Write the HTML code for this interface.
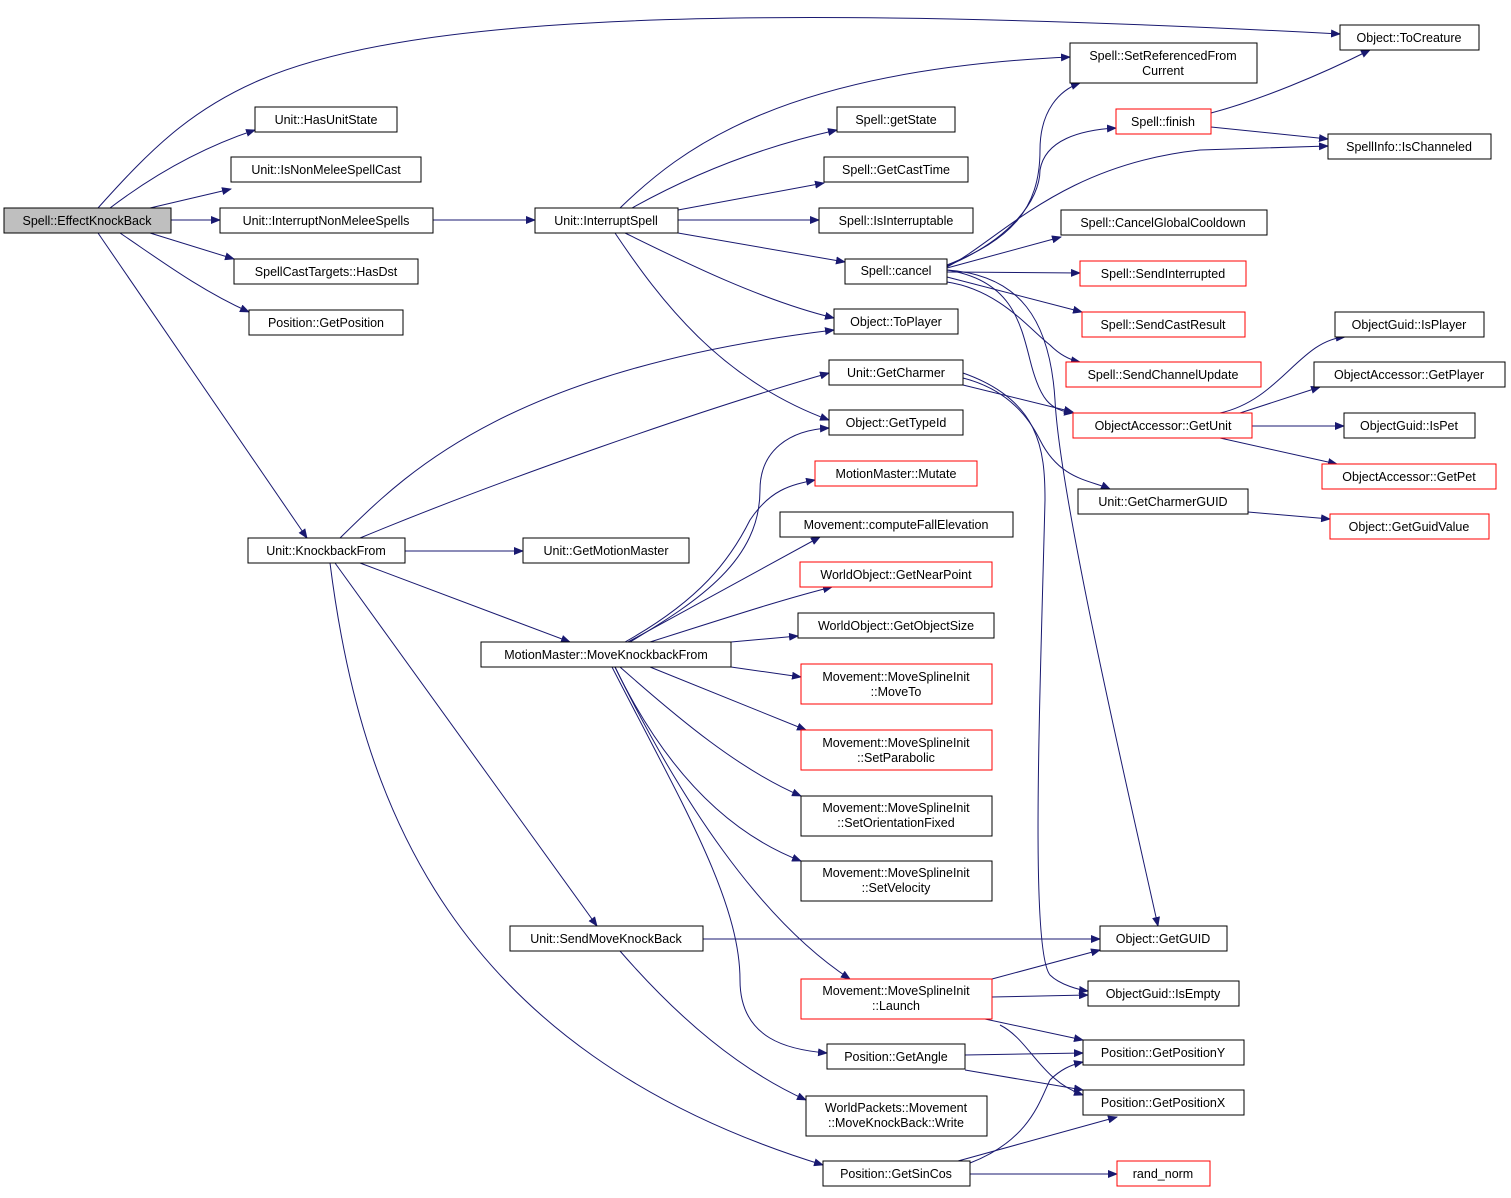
<!DOCTYPE html>
<html><head><meta charset="utf-8"><style>
html,body{margin:0;padding:0;background:#fff;}
svg text{font-family:"Liberation Sans","DejaVu Sans",sans-serif;font-size:12.5px;fill:#000;text-anchor:middle;}
.b{fill:#fff;stroke:#000;stroke-width:1;}
.r{fill:#fff;stroke:#ff0000;stroke-width:1;}
.e{fill:none;stroke:#191970;stroke-width:1;marker-end:url(#a);}
</style></head><body>
<svg width="1511" height="1193" viewBox="0 0 1511 1193" xmlns="http://www.w3.org/2000/svg">
<defs><marker id="a" markerWidth="10" markerHeight="8" refX="9" refY="4" orient="auto" markerUnits="userSpaceOnUse"><path d="M0,0 L10,4 L0,8 z" fill="#191970"/></marker></defs>
<g>
<path class="e" d="M98,208 C150,150 190,110 260,80 C400,20 700,0 1340,34"/>
<path class="e" d="M110,208 C160,170 210,145 255,130"/>
<path class="e" d="M150,208 L231,189"/>
<path class="e" d="M171,220 L220,220"/>
<path class="e" d="M150,233 L234,259"/>
<path class="e" d="M120,233 C160,260 200,290 249,312"/>
<path class="e" d="M98,233 L307,538"/>
<path class="e" d="M433,220 L535,220"/>
<path class="e" d="M620,208 C680,150 780,70 1070,57"/>
<path class="e" d="M632,208 C700,170 770,145 837,130"/>
<path class="e" d="M678,210 L824,183"/>
<path class="e" d="M678,220 L819,220"/>
<path class="e" d="M678,233 L845,262"/>
<path class="e" d="M625,233 C680,260 760,300 834,318"/>
<path class="e" d="M615,233 C660,300 720,380 829,420"/>
<path class="e" d="M340,538 C400,480 500,370 834,330"/>
<path class="e" d="M360,538 C500,480 700,410 829,373"/>
<path class="e" d="M405,551 L523,551"/>
<path class="e" d="M360,563 L570,642"/>
<path class="e" d="M335,563 L597,926"/>
<path class="e" d="M330,563 C360,800 450,1050 823,1165"/>
<path class="e" d="M630,642 C700,600 760,560 760,490 C760,450 790,430 829,428"/>
<path class="e" d="M625,642 C700,600 730,560 750,520 C770,490 790,485 815,480"/>
<path class="e" d="M628,642 L820,537"/>
<path class="e" d="M650,642 C720,620 780,600 832,587"/>
<path class="e" d="M731,642 L798,636"/>
<path class="e" d="M731,667 L801,677"/>
<path class="e" d="M650,667 L806,730"/>
<path class="e" d="M620,667 C680,720 740,770 801,796"/>
<path class="e" d="M615,667 C660,760 720,830 801,861"/>
<path class="e" d="M615,667 C680,800 760,920 850,979"/>
<path class="e" d="M612,667 C680,800 740,900 740,980 C740,1040 790,1050 827,1053"/>
<path class="e" d="M703,939 L1100,939"/>
<path class="e" d="M620,951 C680,1020 740,1070 806,1100"/>
<path class="e" d="M947,265 C1010,240 1040,210 1040,150 C1040,110 1060,90 1080,83"/>
<path class="e" d="M947,266 C1010,240 1040,200 1040,170 C1045,140 1080,130 1116,128"/>
<path class="e" d="M947,267 C1000,240 1060,165 1200,150 L1328,146"/>
<path class="e" d="M947,268 L1061,237"/>
<path class="e" d="M947,272 L1080,273"/>
<path class="e" d="M947,277 L1082,312"/>
<path class="e" d="M947,282 C1000,290 1030,330 1050,345 C1060,355 1070,360 1080,362"/>
<path class="e" d="M947,270 C1010,280 1020,320 1030,360 C1040,400 1050,410 1073,413"/>
<path class="e" d="M947,270 C1020,275 1050,320 1055,400 C1060,500 1130,800 1158,926"/>
<path class="e" d="M1211,113 C1260,100 1320,75 1370,50"/>
<path class="e" d="M1211,127 L1328,139"/>
<path class="e" d="M963,385 L1073,412"/>
<path class="e" d="M963,378 C1010,390 1030,420 1040,440 C1060,480 1090,480 1110,489"/>
<path class="e" d="M963,373 C1040,400 1045,450 1045,500 C1040,700 1030,950 1050,975 C1060,985 1080,990 1088,991"/>
<path class="e" d="M1220,413 C1280,400 1300,340 1345,337"/>
<path class="e" d="M1240,413 L1320,387"/>
<path class="e" d="M1252,426 L1344,426"/>
<path class="e" d="M1220,438 L1337,464"/>
<path class="e" d="M1248,512 L1330,519"/>
<path class="e" d="M992,979 L1100,950"/>
<path class="e" d="M992,997 L1088,995"/>
<path class="e" d="M985,1019 L1083,1040"/>
<path class="e" d="M1000,1025 C1030,1040 1040,1080 1083,1095"/>
<path class="e" d="M965,1055 L1083,1053"/>
<path class="e" d="M965,1070 L1083,1090"/>
<path class="e" d="M970,1163 C1030,1140 1040,1100 1050,1080 C1060,1070 1070,1065 1083,1062"/>
<path class="e" d="M958,1161 L1117,1117"/>
<path class="e" d="M970,1174 L1117,1174"/>
</g>
<g>
<rect x="4" y="208" width="167" height="25" fill="#bfbfbf" stroke="#000"/><text x="87" y="225">Spell::EffectKnockBack</text>
<rect class="b" x="255" y="107" width="142" height="25"/><text x="326" y="124">Unit::HasUnitState</text>
<rect class="b" x="231" y="157" width="190" height="25"/><text x="326" y="174">Unit::IsNonMeleeSpellCast</text>
<rect class="b" x="220" y="208" width="213" height="25"/><text x="326" y="225">Unit::InterruptNonMeleeSpells</text>
<rect class="b" x="234" y="259" width="184" height="25"/><text x="326" y="276">SpellCastTargets::HasDst</text>
<rect class="b" x="249" y="310" width="154" height="25"/><text x="326" y="327">Position::GetPosition</text>
<rect class="b" x="248" y="538" width="157" height="25"/><text x="326" y="555">Unit::KnockbackFrom</text>
<rect class="b" x="535" y="208" width="143" height="25"/><text x="606" y="225">Unit::InterruptSpell</text>
<rect class="b" x="523" y="538" width="166" height="25"/><text x="606" y="555">Unit::GetMotionMaster</text>
<rect class="b" x="481" y="642" width="250" height="25"/><text x="606" y="659">MotionMaster::MoveKnockbackFrom</text>
<rect class="b" x="510" y="926" width="193" height="25"/><text x="606" y="943">Unit::SendMoveKnockBack</text>
<rect class="b" x="1070" y="43" width="187" height="40"/><text x="1163" y="60">Spell::SetReferencedFrom</text><text x="1163" y="75">Current</text>
<rect class="b" x="837" y="107" width="118" height="25"/><text x="896" y="124">Spell::getState</text>
<rect class="b" x="824" y="157" width="144" height="25"/><text x="896" y="174">Spell::GetCastTime</text>
<rect class="b" x="819" y="208" width="154" height="25"/><text x="896" y="225">Spell::IsInterruptable</text>
<rect class="b" x="845" y="259" width="102" height="25"/><text x="896" y="275">Spell::cancel</text>
<rect class="b" x="834" y="309" width="124" height="25"/><text x="896" y="326">Object::ToPlayer</text>
<rect class="b" x="829" y="360" width="134" height="25"/><text x="896" y="377">Unit::GetCharmer</text>
<rect class="b" x="829" y="410" width="134" height="25"/><text x="896" y="427">Object::GetTypeId</text>
<rect class="r" x="815" y="461" width="162" height="25"/><text x="896" y="478">MotionMaster::Mutate</text>
<rect class="b" x="780" y="512" width="233" height="25"/><text x="896" y="529">Movement::computeFallElevation</text>
<rect class="r" x="800" y="562" width="192" height="25"/><text x="896" y="579">WorldObject::GetNearPoint</text>
<rect class="b" x="798" y="613" width="196" height="25"/><text x="896" y="630">WorldObject::GetObjectSize</text>
<rect class="r" x="801" y="664" width="191" height="40"/><text x="896" y="681">Movement::MoveSplineInit</text><text x="896" y="696">::MoveTo</text>
<rect class="r" x="801" y="730" width="191" height="40"/><text x="896" y="747">Movement::MoveSplineInit</text><text x="896" y="762">::SetParabolic</text>
<rect class="b" x="801" y="796" width="191" height="40"/><text x="896" y="812">Movement::MoveSplineInit</text><text x="896" y="827">::SetOrientationFixed</text>
<rect class="b" x="801" y="861" width="191" height="40"/><text x="896" y="877">Movement::MoveSplineInit</text><text x="896" y="892">::SetVelocity</text>
<rect class="r" x="801" y="979" width="191" height="40"/><text x="896" y="995">Movement::MoveSplineInit</text><text x="896" y="1010">::Launch</text>
<rect class="b" x="827" y="1044" width="138" height="25"/><text x="896" y="1061">Position::GetAngle</text>
<rect class="b" x="806" y="1096" width="181" height="40"/><text x="896" y="1112">WorldPackets::Movement</text><text x="896" y="1127">::MoveKnockBack::Write</text>
<rect class="b" x="823" y="1161" width="147" height="25"/><text x="896" y="1178">Position::GetSinCos</text>
<rect class="b" x="1340" y="25" width="139" height="25"/><text x="1409" y="42">Object::ToCreature</text>
<rect class="r" x="1116" y="109" width="95" height="25"/><text x="1163" y="126">Spell::finish</text>
<rect class="b" x="1328" y="134" width="163" height="25"/><text x="1409" y="151">SpellInfo::IsChanneled</text>
<rect class="b" x="1061" y="210" width="206" height="25"/><text x="1163" y="227">Spell::CancelGlobalCooldown</text>
<rect class="r" x="1080" y="261" width="166" height="25"/><text x="1163" y="278">Spell::SendInterrupted</text>
<rect class="r" x="1082" y="312" width="163" height="25"/><text x="1163" y="329">Spell::SendCastResult</text>
<rect class="r" x="1066" y="362" width="195" height="25"/><text x="1163" y="379">Spell::SendChannelUpdate</text>
<rect class="r" x="1073" y="413" width="179" height="25"/><text x="1163" y="430">ObjectAccessor::GetUnit</text>
<rect class="b" x="1078" y="489" width="170" height="25"/><text x="1163" y="506">Unit::GetCharmerGUID</text>
<rect class="b" x="1335" y="312" width="149" height="25"/><text x="1409" y="329">ObjectGuid::IsPlayer</text>
<rect class="b" x="1314" y="362" width="191" height="25"/><text x="1409" y="379">ObjectAccessor::GetPlayer</text>
<rect class="b" x="1344" y="413" width="131" height="25"/><text x="1409" y="430">ObjectGuid::IsPet</text>
<rect class="r" x="1322" y="464" width="174" height="25"/><text x="1409" y="481">ObjectAccessor::GetPet</text>
<rect class="r" x="1330" y="514" width="159" height="25"/><text x="1409" y="531">Object::GetGuidValue</text>
<rect class="b" x="1100" y="926" width="127" height="25"/><text x="1163" y="943">Object::GetGUID</text>
<rect class="b" x="1088" y="981" width="151" height="25"/><text x="1163" y="998">ObjectGuid::IsEmpty</text>
<rect class="b" x="1083" y="1040" width="161" height="25"/><text x="1163" y="1057">Position::GetPositionY</text>
<rect class="b" x="1083" y="1090" width="161" height="25"/><text x="1163" y="1107">Position::GetPositionX</text>
<rect class="r" x="1117" y="1161" width="93" height="25"/><text x="1163" y="1178">rand_norm</text>
</g>
</svg>
</body></html>
